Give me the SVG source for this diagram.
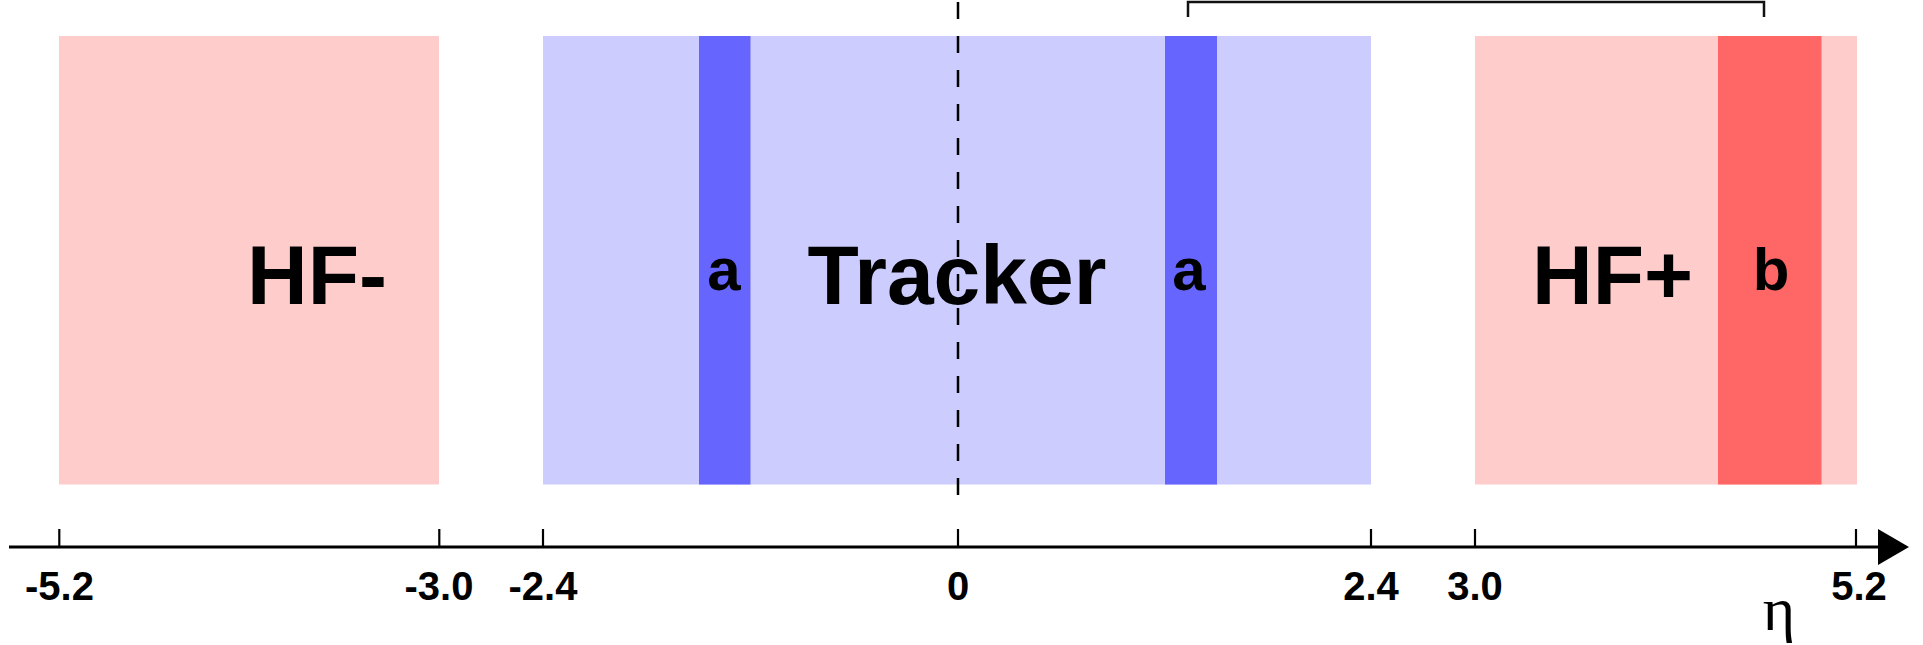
<svg xmlns="http://www.w3.org/2000/svg" width="1923" height="645" viewBox="0 0 1923 645">
  <style>
    .lbl { font-family: "Liberation Sans", Arial, sans-serif; font-weight: bold; fill: #000; }
    .big { font-size: 84px; }
    .small { font-size: 60px; text-anchor: middle; }
    .num { font-size: 40px; text-anchor: middle; }
    .tick { stroke: #000; stroke-width: 2.2; }
    .pink { fill: #FFCCCC; }
    .lblue { fill: #CCCCFF; }
    .dblue { fill: #6666FF; }
    .red { fill: #FF6666; }
  </style>
  <rect width="1923" height="645" fill="#fff"/>

  <g id="hf-minus">
    <rect class="pink" x="59" y="36" width="380" height="448.5"/>
    <text class="lbl big" x="247" y="304">HF-</text>
  </g>

  <g id="tracker">
    <rect class="lblue" x="543" y="36" width="828" height="448.5"/>
    <text class="lbl big" x="957" y="304" text-anchor="middle">Tracker</text>
  </g>

  <g id="a-left">
    <rect class="dblue" x="699" y="36" width="51.5" height="448.5"/>
    <text class="lbl small" x="724" y="290">a</text>
  </g>

  <g id="a-right">
    <rect class="dblue" x="1165" y="36" width="52" height="448.5"/>
    <text class="lbl small" x="1189" y="290">a</text>
  </g>

  <g id="hf-plus">
    <rect class="pink" x="1475" y="36" width="382" height="448.5"/>
    <text class="lbl big" x="1532" y="304">HF+</text>
  </g>

  <g id="b-region">
    <rect class="red" x="1718" y="36" width="103.5" height="448.5"/>
    <text class="lbl small" x="1771" y="290">b</text>
  </g>

  <g id="connectors">
    <line x1="958" y1="2" x2="958" y2="497" stroke="#000" stroke-width="2.5" stroke-dasharray="17 17"/>
    <path d="M1188,17 V2 H1764 V17" fill="none" stroke="#111" stroke-width="2.5"/>
  </g>

  <g id="axis">
    <line x1="9" y1="547" x2="1882" y2="547" stroke="#000" stroke-width="3"/>
    <polygon points="1878,529 1909,547 1878,565" fill="#000"/>
    <line class="tick" x1="59.3" y1="529" x2="59.3" y2="547"/>
    <line class="tick" x1="439.3" y1="529" x2="439.3" y2="547"/>
    <line class="tick" x1="543" y1="529" x2="543" y2="547"/>
    <line class="tick" x1="958" y1="529" x2="958" y2="547"/>
    <line class="tick" x1="1371" y1="529" x2="1371" y2="547"/>
    <line class="tick" x1="1475" y1="529" x2="1475" y2="547"/>
    <line class="tick" x1="1856" y1="529" x2="1856" y2="547"/>
    <text class="lbl num" x="59.5" y="600">-5.2</text>
    <text class="lbl num" x="439" y="600">-3.0</text>
    <text class="lbl num" x="543" y="600">-2.4</text>
    <text class="lbl num" x="958" y="600">0</text>
    <text class="lbl num" x="1371" y="600">2.4</text>
    <text class="lbl num" x="1475" y="600">3.0</text>
    <text class="lbl num" x="1859" y="600">5.2</text>
    <text x="1779" y="630" font-family="Liberation Serif, 'Times New Roman', serif" font-size="62" text-anchor="middle" fill="#000">η</text>
  </g>
</svg>
